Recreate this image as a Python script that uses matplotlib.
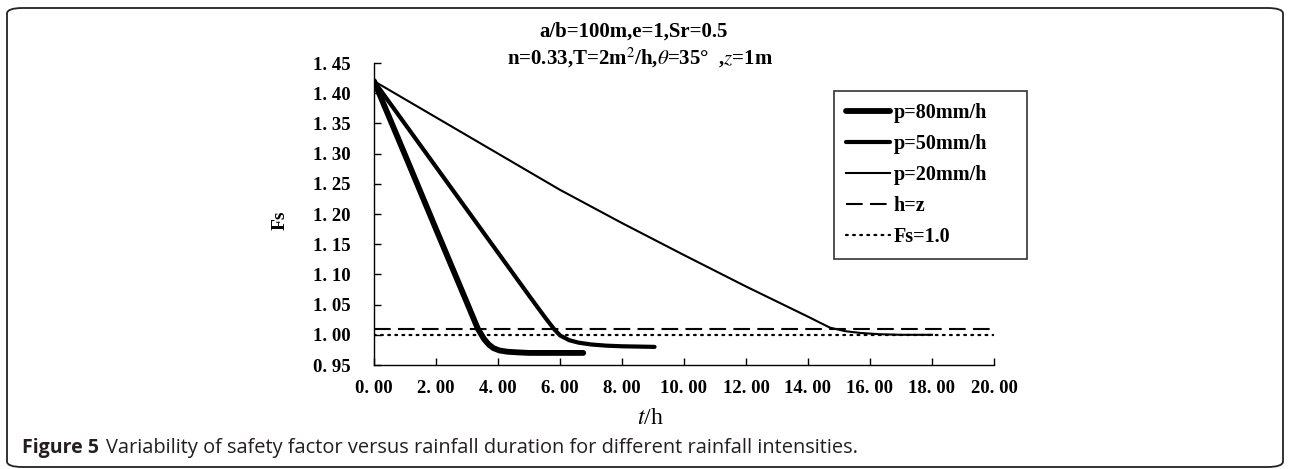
#
# Imports
#
import numpy as np
import matplotlib
matplotlib.use("Agg")
import matplotlib.pyplot as plt
from matplotlib.patches import FancyBboxPatch

#
# Data
#
t_80 = [0.0, 1.0, 2.0, 3.0, 3.35, 3.55, 3.7, 3.85, 4.05, 4.3, 4.6, 5.0, 6.0, 6.75]
fs_80 = [1.42, 1.298, 1.175, 1.053, 1.01, 0.993, 0.984, 0.978, 0.974, 0.972, 0.971, 0.970, 0.970, 0.970]

t_50 = [0.0, 1.0, 2.0, 3.0, 4.0, 5.0, 5.5, 5.8, 6.0, 6.3, 6.6, 7.0, 7.5, 8.0, 9.05]
fs_50 = [1.42, 1.349, 1.278, 1.207, 1.136, 1.065, 1.030, 1.010, 0.999, 0.991, 0.987, 0.984, 0.982, 0.981, 0.980]

t_20 = [0.0, 2.0, 4.0, 6.0, 8.0, 10.0, 12.0, 13.0, 14.0, 14.7, 15.2, 15.7, 16.3, 17.0, 18.0]
fs_20 = [1.42, 1.36, 1.30, 1.24, 1.185, 1.132, 1.080, 1.055, 1.030, 1.012, 1.006, 1.003, 1.001, 1.000, 1.000]

t_line = [0.0, 20.0]
h_eq_z = [1.01, 1.01]
fs_one = [1.0, 1.0]

labels = ["p=80mm/h", "p=50mm/h", "p=20mm/h", "h=z", "Fs=1.0"]
xticks = np.arange(0, 21, 2)
yticks = np.arange(0.95, 1.451, 0.05)

#
# Plot
#
plt.rcParams["mathtext.fontset"] = "stix"
serif = "Liberation Serif"

fig = plt.figure(figsize=(12.9, 4.69), dpi=100)

# rounded frame round the whole figure
frame = FancyBboxPatch((7 / 1290, 1 - 467 / 469), 1276 / 1290, 459 / 469,
                       boxstyle="round,pad=0,rounding_size=0.012",
                       transform=fig.transFigure, fill=False,
                       edgecolor="#222222", linewidth=1.3)
fig.patches.append(frame)

ax = fig.add_axes([374 / 1290, 1 - 365 / 469, 620 / 1290, 302 / 469])

ax.plot(t_80, fs_80, color="black", linewidth=4.2, solid_capstyle="round", solid_joinstyle="round", label=labels[0])
ax.plot(t_50, fs_50, color="black", linewidth=3.0, solid_capstyle="round", solid_joinstyle="round", label=labels[1])
ax.plot(t_20, fs_20, color="black", linewidth=1.5, label=labels[2])
ax.plot(t_line, h_eq_z, color="black", linewidth=1.5, linestyle=(0, (8, 3.5)), label=labels[3])
ax.plot(t_line, fs_one, color="black", linewidth=1.6, linestyle=(0, (0.8, 2.4)), dash_capstyle="round", label=labels[4])

ax.set_xlim(0, 20)
ax.set_ylim(0.95, 1.45)
ax.set_xticks(xticks)
ax.set_yticks(yticks)
ax.set_xticklabels(["{:.2f}".format(v).replace(".", ". ") for v in xticks])
ax.set_yticklabels(["{:.2f}".format(v).replace(".", ". ") for v in yticks])
ax.tick_params(direction="in", length=5, width=1, colors="black", labelsize=13.5)
ax.tick_params(axis="y", pad=17)
ax.tick_params(axis="x", pad=11)
for lab in ax.get_xticklabels() + ax.get_yticklabels():
    lab.set_fontfamily(serif)
    lab.set_fontweight("bold")
ax.spines["top"].set_visible(False)
ax.spines["right"].set_visible(False)
ax.spines["left"].set_linewidth(1)
ax.spines["bottom"].set_linewidth(1)

leg = ax.legend(loc="upper left", bbox_to_anchor=(834 / 1290, 1 - 263 / 469, 193 / 1290, 172 / 469),
                bbox_transform=fig.transFigure, mode="expand", frameon=True, fancybox=False,
                prop={"family": serif, "weight": "bold", "size": 14.5},
                handlelength=2.2, handletextpad=0.15, labelspacing=0.55, borderpad=0.6,
                borderaxespad=0)
leg.get_frame().set_edgecolor("black")
leg.get_frame().set_linewidth(1.2)

# titles and axis labels
fig.text(634 / 1290, 1 - 32 / 469, "a/b=100m,e=1,Sr=0.5", ha="center", va="center",
         family=serif, weight="bold", fontsize=15)
fig.text(640 / 1290, 1 - 58 / 469, r"n=0.33,T=2m$^2$/h,$\theta$=35°  ,$z$=1m", ha="center", va="center",
         family=serif, weight="bold", fontsize=15)
fig.text(280 / 1290, 1 - 220 / 469, "Fs", rotation=90, ha="center", va="center",
         family=serif, weight="bold", fontsize=14)
fig.text(650 / 1290, 1 - 418 / 469, r"$t$/h", ha="center", va="center", family=serif, fontsize=17)

# caption
renderer = fig.canvas.get_renderer()
cap1 = fig.text(22 / 1290, 1 - 448 / 469, "Figure 5", ha="left", va="center",
                family="Open Sans", weight="bold", fontsize=14, color="#231f20")
bb = cap1.get_window_extent(renderer)
fig.text((bb.x1 + 7) / 1290, 1 - 448 / 469,
         "Variability of safety factor versus rainfall duration for different rainfall intensities.",
         ha="left", va="center", family="Open Sans", fontsize=14.4, color="#231f20")

fig.savefig("out.png", dpi=100)
